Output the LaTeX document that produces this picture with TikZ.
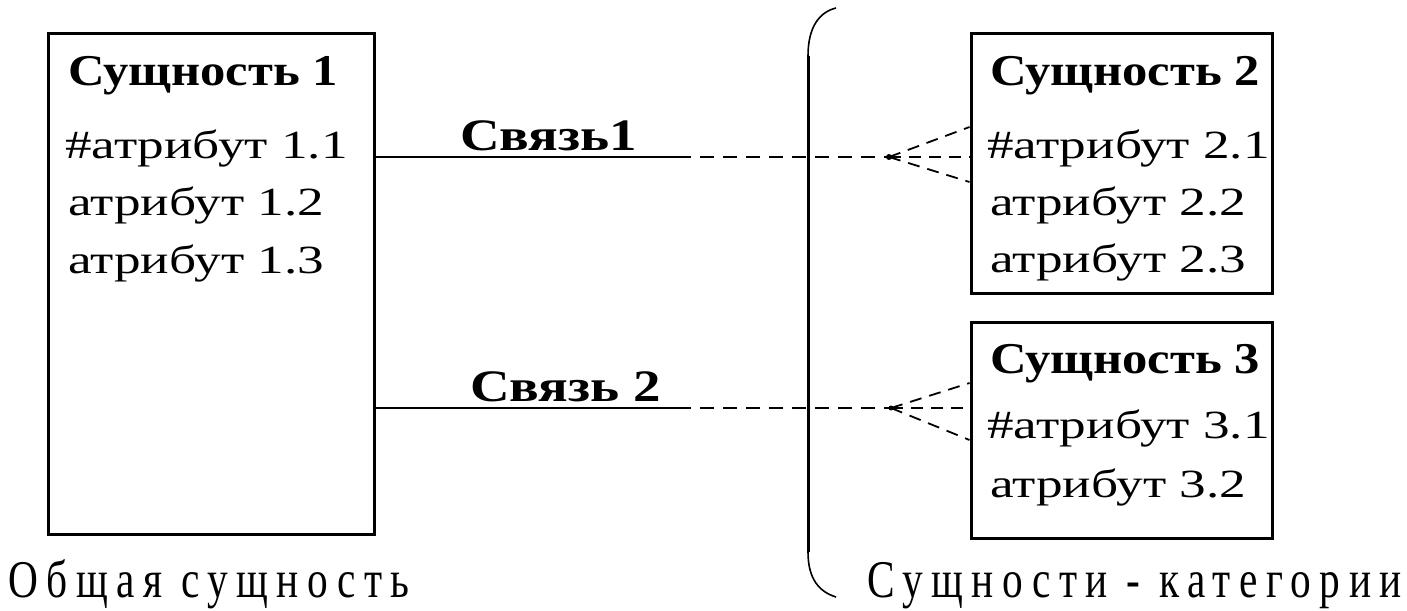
\documentclass[tikz,border=0pt]{standalone}
\usepackage{fontspec}
\setmainfont{Liberation Serif}
\newfontfamily\attrfont[FakeStretch=1.33]{Liberation Serif}
\newfontfamily\titlefont[FakeStretch=1.15]{Liberation Serif Bold}
\newfontfamily\relfont[FakeStretch=1.22]{Liberation Serif Bold}
\newfontfamily\capfont[FakeStretch=0.78,LetterSpace=16]{Liberation Serif}
\tikzset{
  entity/.style={draw, line width=3pt, inner sep=0pt, anchor=north west},
  title/.style={font=\titlefont\fontsize{44}{44}\selectfont, anchor=base west, inner sep=0pt},
  attr/.style={font=\attrfont\fontsize{40}{40}\selectfont, anchor=base west, inner sep=0pt},
  rel/.style={font=\relfont\fontsize{45}{45}\selectfont, anchor=base west, inner sep=0pt},
  caption/.style={font=\capfont\fontsize{53}{53}\selectfont, anchor=base west, inner sep=0pt},
  link/.style={line width=2pt},
  optional/.style={line width=2pt, dash pattern=on 14pt off 9pt},
  foot/.style={line width=1.8pt, dash pattern=on 12pt off 8pt},
  brace/.style={line width=3pt},
  braceend/.style={line width=1.6pt},
}
\begin{document}
\begin{tikzpicture}[x=1pt, y=-1pt]
  \useasboundingbox (0,0) rectangle (1407,610);

  % entities
  \node[entity, minimum width=326pt, minimum height=500pt] (e1) at (46.5,32.5) {};
  \node[entity, minimum width=301pt, minimum height=259pt] (e2) at (969.5,32.5) {};
  \node[entity, minimum width=301pt, minimum height=216pt] (e3) at (969.5,320.5) {};

  % general entity text
  \node[title] (e1t) at (68,85) {Сущность 1};
  \node[attr] (e1a) at (65,158) {\#атрибут 1.1};
  \node[attr] (e1b) at (68,215) {атрибут 1.2};
  \node[attr] (e1c) at (68,273) {атрибут 1.3};

  % category entity 2
  \node[title] (e2t) at (990,85) {Сущность 2};
  \node[attr] (e2a) at (987,158) {\#атрибут 2.1};
  \node[attr] (e2b) at (990,215) {атрибут 2.2};
  \node[attr] (e2c) at (990,272) {атрибут 2.3};

  % category entity 3
  \node[title] (e3t) at (990,373) {Сущность 3};
  \node[attr] (e3a) at (987,438) {\#атрибут 3.1};
  \node[attr] (e3b) at (990,497) {атрибут 3.2};

  % relationship labels
  \node[rel] (r1) at (460,150) {Связь1};
  \node[rel] (r2) at (470,401) {Связь 2};

  % relationship 1
  \coordinate (s1) at (677,157);
  \coordinate (f1) at (889,157);
  \coordinate (u1) at (968,127);
  \coordinate (d1) at (968,182);
  \draw[link] (e1.east |- s1) -- (s1);
  \draw[optional] (s1) -- (f1);
  \draw[foot] (f1) -- (e2.west |- f1);
  \draw[foot] (f1) -- (e2.west |- u1);
  \draw[foot] (f1) -- (e2.west |- d1);
  \fill (f1) circle (3pt);

  % relationship 2
  \coordinate (s2) at (677,408);
  \coordinate (f2) at (891,408);
  \coordinate (u2) at (968,383);
  \coordinate (d2) at (968,440);
  \draw[link] (e1.east |- s2) -- (s2);
  \draw[optional] (s2) -- (f2);
  \draw[foot] (f2) -- (e3.west |- f2);
  \draw[foot] (f2) -- (e3.west |- u2);
  \draw[foot] (f2) -- (e3.west |- d2);
  \fill (f2) circle (2.5pt);

  % category bracket
  \coordinate (bt) at (808,56);
  \coordinate (bb) at (808,552);
  \draw[brace] (bt) -- (bb);
  \draw[braceend] (bt) .. controls (808,26) and (820,12) .. (836,8);
  \draw[braceend] (bb) .. controls (808,580) and (820,592) .. (836,597);

  % captions
  \node[caption] (c1) at (8,597) {Общая сущность};
  \node[caption, anchor=base east] (c2) at (1402,597) {Сущности - категории};
\end{tikzpicture}
\end{document}
